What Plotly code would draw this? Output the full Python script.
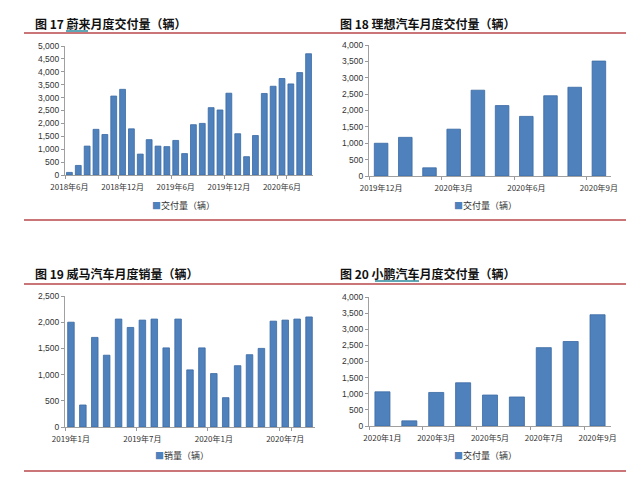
import plotly.graph_objects as go

W, H = 640, 491

# ---- data ----
nio_months = [f"{y}年{m}月" for y, m in
              [(2018, m) for m in range(6, 13)] + [(2019, m) for m in range(1, 13)] + [(2020, m) for m in range(1, 10)]]
nio_values = [100, 370, 1120, 1770, 1570, 3060, 3320, 1790, 810, 1370, 1120, 1100, 1340, 830,
              1950, 2000, 2610, 2520, 3170, 1600, 710, 1530, 3160, 3440, 3740, 3530, 3970, 4700]
nio_ticks = ["2018年6月", "2018年12月", "2019年6月", "2019年12月", "2020年6月"]

li_months = ["2019年12月"] + [f"2020年{m}月" for m in range(1, 10)]
li_values = [1000, 1180, 250, 1430, 2620, 2150, 1820, 2450, 2710, 3510]
li_ticks = ["2019年12月", "2020年3月", "2020年6月", "2020年9月"]

wm_months = [f"2019年{m}月" for m in range(1, 13)] + [f"2020年{m}月" for m in range(1, 10)]
wm_values = [2000, 420, 1710, 1370, 2060, 1900, 2040, 2060, 1510, 2060, 1090,
             1510, 1020, 560, 1170, 1380, 1500, 2020, 2040, 2060, 2100]
wm_ticks = ["2019年1月", "2019年7月", "2020年1月", "2020年7月"]

xp_months = [f"2020年{m}月" for m in range(1, 10)]
xp_values = [1060, 160, 1040, 1340, 960, 900, 2430, 2620, 3450]
xp_ticks = ["2020年1月", "2020年3月", "2020年5月", "2020年7月", "2020年9月"]

BAR = "#4F81BD"
BAR_LINE = "#3A6AA3"
RED = "#B9474A"
CJK = "Noto Sans CJK SC"


def px(x):
    return x / W


def py(y):
    return 1 - y / H


panels = [
    dict(x=nio_months, y=nio_values, ticks=nio_ticks, ymax=5000, name="交付量（辆）",
         title="图 17 蔚来月度交付量（辆）", box=(57, 305, 38, 167), width=0.66, leg=(142, 197)),
    dict(x=li_months, y=li_values, ticks=li_ticks, ymax=4000, name="交付量（辆）",
         title="图 18 理想汽车月度交付量（辆）", box=(361, 603, 37, 168), width=0.56, leg=(444, 197)),
    dict(x=wm_months, y=wm_values, ticks=wm_ticks, ymax=2500, name="销量（辆）",
         title="图 19 威马汽车月度销量（辆）", box=(57, 307, 288, 419), width=0.55, leg=(145, 447)),
    dict(x=xp_months, y=xp_values, ticks=xp_ticks, ymax=4000, name="交付量（辆）",
         title="图 20 小鹏汽车月度交付量（辆）", box=(361, 603, 289, 418), width=0.56, leg=(444, 447)),
]

fig = go.Figure()
layout = {}
annotations = []

for i, p in enumerate(panels, start=1):
    suffix = "" if i == 1 else str(i)
    fig.add_trace(go.Bar(
        x=p["x"], y=p["y"], name=p["name"], width=p["width"],
        marker=dict(color=BAR, line=dict(color=BAR_LINE, width=0.8)),
        xaxis="x" + suffix, yaxis="y" + suffix, showlegend=False,
    ))
    x0, x1, yt, yb = p["box"]
    layout["xaxis" + suffix] = dict(
        domain=[px(x0), px(x1)], anchor="y" + suffix, type="category", automargin=False,
        tickmode="array", tickvals=p["ticks"], ticktext=p["ticks"],
        tickson="boundaries", ticks="outside", ticklen=3, tickcolor="#999999",
        ticklabelstandoff=4,
        showline=True, linecolor="#A0A0A0", linewidth=1, showgrid=False,
        tickfont=dict(size=8, color="#333333", family=CJK), tickangle=0,
    )
    layout["yaxis" + suffix] = dict(
        domain=[py(yb), py(yt)], anchor="x" + suffix, range=[0, p["ymax"]], automargin=False,
        dtick=500, tickformat=",", ticks="outside", ticklen=3, tickcolor="#999999",
        showline=True, linecolor="#A0A0A0", linewidth=1, showgrid=False, zeroline=False,
        tickfont=dict(size=8.5, color="#333333", family="Liberation Sans"),
    )
    # legend entry: small blue square followed by the series name
    lx, ly = p["leg"]
    annotations.append(dict(
        text=f"<span style='color:{BAR}'>■</span>{p['name']}", xref="paper", yref="paper",
        x=px(lx), y=py(ly), xanchor="left", yanchor="middle", showarrow=False,
        font=dict(size=9, color="#333333", family=CJK),
    ))
    tx = 25 if i in (1, 3) else 330
    ty = 15 if i in (1, 2) else 265
    annotations.append(dict(
        text="<b>" + p["title"] + "</b>", xref="paper", yref="paper", x=px(tx), y=py(ty),
        xanchor="left", yanchor="middle", showarrow=False,
        font=dict(size=12, color="#111111", family=CJK),
    ))

shapes = []
# red rules above and below each panel
for (xa, xb, y) in [(16, 320, 25), (320, 618, 25), (16, 320, 212), (320, 618, 212),
                    (16, 320, 276), (320, 618, 276), (16, 320, 463), (320, 618, 463)]:
    shapes.append(dict(type="line", xref="paper", yref="paper", x0=px(xa), x1=px(xb),
                       y0=py(y), y1=py(y), line=dict(color=RED, width=1.5)))
# link underlines in the titles
for (xa, xb, y) in [(58, 80, 23), (367, 411, 273)]:
    shapes.append(dict(type="line", xref="paper", yref="paper", x0=px(xa), x1=px(xb),
                       y0=py(y), y1=py(y), line=dict(color="#2B8A9C", width=1.5)))

fig.update_layout(
    **layout,
    width=W, height=H,
    margin=dict(l=0, r=0, t=0, b=0, autoexpand=False),
    paper_bgcolor="white", plot_bgcolor="white",
    annotations=annotations, shapes=shapes,
    font=dict(family=CJK),
    showlegend=False,
)

fig.write_html("out.html")
